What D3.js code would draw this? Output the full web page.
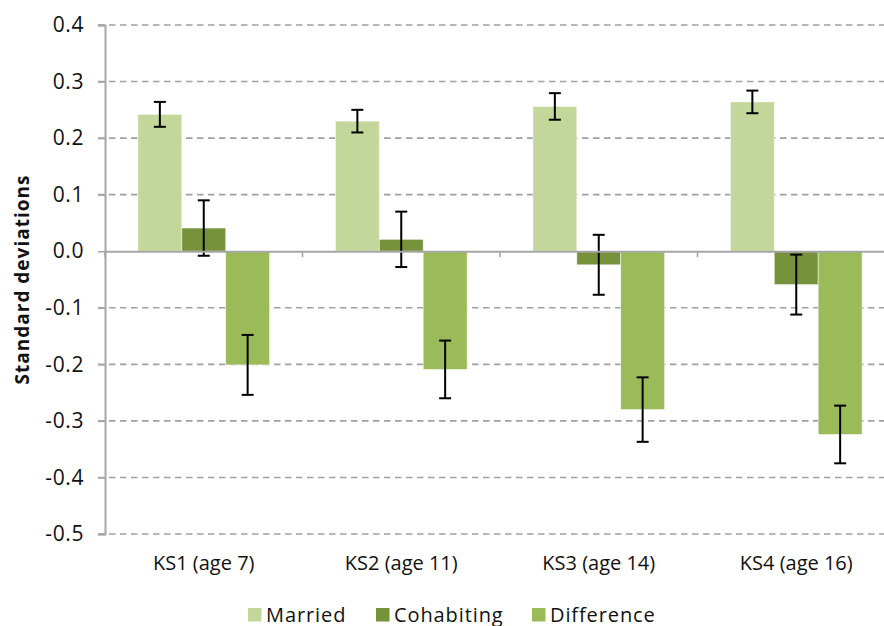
<!DOCTYPE html>
<html>
<head>
<meta charset="utf-8">
<script src="https://cdn.jsdelivr.net/npm/d3@7"></script>
<style>
  html, body { margin: 0; padding: 0; background: #fff; }
  svg { display: block; }
  text { font-family: "Open Sans", "Noto Sans", sans-serif; fill: #111; }
</style>
</head>
<body>
<svg id="chart" width="884" height="626"></svg>
<script>
// Key stages and series
const categories = ["KS1 (age 7)", "KS2 (age 11)", "KS3 (age 14)", "KS4 (age 16)"];
const seriesNames = ["Married", "Cohabiting", "Difference"];
const seriesColors = ["#c4d79b", "#76933c", "#9bbb59"];

// Effect sizes (standard deviations) and error half-widths
const married = [0.242, 0.230, 0.256, 0.264];
const cohabiting = [0.041, 0.021, -0.024, -0.059];
const difference = [-0.201, -0.209, -0.280, -0.324];
const marriedErr = [0.022, 0.020, 0.0235, 0.020];
const cohabitingErr = [0.049, 0.049, 0.053, 0.053];
const differenceErr = [0.053, 0.051, 0.057, 0.051];

const yTicks = [0.4, 0.3, 0.2, 0.1, 0.0, -0.1, -0.2, -0.3, -0.4, -0.5];

const values = [married, cohabiting, difference];
const errors = [marriedErr, cohabitingErr, differenceErr];

const svg = d3.select("#chart");
const plotLeft = 105, plotRight = 895, plotTop = 25, plotBottom = 534;

const y = d3.scaleLinear().domain([-0.5, 0.4]).range([plotBottom, plotTop]);
const x0 = d3.scaleBand().domain(categories).range([plotLeft, plotRight]).paddingInner(0).paddingOuter(0);
const groupW = x0.bandwidth() * (3 / 4.5);
const x1 = d3.scaleBand().domain(seriesNames).range([0, groupW]).padding(0);

// Horizontal dashed gridlines
svg.append("g")
  .selectAll("line")
  .data(yTicks.filter(t => t !== 0))
  .join("line")
  .attr("x1", plotLeft - 7).attr("x2", plotRight)
  .attr("y1", d => y(d)).attr("y2", d => y(d))
  .attr("stroke", "#a0a0a0").attr("stroke-width", 1.6)
  .attr("stroke-dasharray", "6.5,4.5");

// Y axis
const yAxis = d3.axisLeft(y).tickValues(yTicks).tickSize(7).tickPadding(14);
const gy = svg.append("g").attr("transform", `translate(${plotLeft},0)`).call(yAxis);
gy.select(".domain").attr("stroke", "#a6a6a6").attr("stroke-width", 2);
gy.selectAll(".tick line").attr("stroke", "#a6a6a6").attr("stroke-width", 1.6);
gy.selectAll(".tick text").style("font-size", "21px").attr("fill", "#111")
  .style("letter-spacing", "0.6px")
  .style("font-family", "'Open Sans', 'Noto Sans', sans-serif")
  .text(d => d < 0 ? "-" + Math.abs(d).toFixed(1) : Math.abs(d).toFixed(1));

// Bars
const groups = svg.append("g")
  .selectAll("g")
  .data(categories)
  .join("g")
  .attr("transform", d => `translate(${x0(d) + (x0.bandwidth() - groupW) / 2},0)`);

const cells = (d, i) => seriesNames.map((s, j) => ({ s, j, v: values[j][i], e: errors[j][i] }));

groups.selectAll("rect")
  .data(cells)
  .join("rect")
  .attr("x", d => x1(d.s))
  .attr("width", x1.bandwidth())
  .attr("y", d => y(Math.max(0, d.v)))
  .attr("height", d => Math.abs(y(d.v) - y(0)))
  .attr("fill", d => seriesColors[d.j])
  .attr("stroke", "#ffffff").attr("stroke-opacity", 0.6).attr("stroke-width", 0.8);

// X axis line at zero with category ticks
const xAxis = d3.axisBottom(x0).tickSize(0).tickFormat("");
const gx = svg.append("g").attr("transform", `translate(0,${y(0)})`).call(xAxis);
gx.select(".domain").attr("stroke", "#a6a6a6").attr("stroke-width", 2);
svg.append("g").selectAll("line")
  .data(categories.map(c => x0(c)).concat([plotRight]))
  .join("line")
  .attr("x1", d => d).attr("x2", d => d)
  .attr("y1", y(0)).attr("y2", y(0) + 6)
  .attr("stroke", "#a6a6a6").attr("stroke-width", 1.6);

// Error bars
const capW = 12;
const eb = groups.selectAll("g.err")
  .data(cells)
  .join("g").attr("class", "err")
  .attr("transform", d => `translate(${x1(d.s) + x1.bandwidth() / 2},0)`);
eb.append("line").attr("x1", 0).attr("x2", 0)
  .attr("y1", d => y(d.v + d.e)).attr("y2", d => y(d.v - d.e))
  .attr("stroke", "#000").attr("stroke-width", 2);
eb.append("line").attr("x1", -capW / 2).attr("x2", capW / 2)
  .attr("y1", d => y(d.v + d.e)).attr("y2", d => y(d.v + d.e))
  .attr("stroke", "#000").attr("stroke-width", 2);
eb.append("line").attr("x1", -capW / 2).attr("x2", capW / 2)
  .attr("y1", d => y(d.v - d.e)).attr("y2", d => y(d.v - d.e))
  .attr("stroke", "#000").attr("stroke-width", 2);

// Category labels
svg.append("g").selectAll("text")
  .data(categories)
  .join("text")
  .attr("x", d => x0(d) + x0.bandwidth() / 2)
  .attr("y", 570)
  .attr("text-anchor", "middle")
  .style("font-size", "20px")
  .text(d => d);

// Y axis title
svg.append("text")
  .attr("transform", `translate(29,${(plotTop + plotBottom) / 2}) rotate(-90)`)
  .attr("text-anchor", "middle")
  .style("font-size", "19px").style("font-weight", "bold")
  .style("letter-spacing", "1px")
  .text("Standard deviations");

// Legend
const legendX = [248, 376, 532];
const legend = svg.append("g").selectAll("g")
  .data(seriesNames)
  .join("g")
  .attr("transform", (d, i) => `translate(${legendX[i]},608)`);
legend.append("rect").attr("x", 0).attr("y", 0).attr("width", 13.5).attr("height", 13.5)
  .attr("fill", (d, i) => seriesColors[i]);
legend.append("text").attr("x", 18).attr("y", 13.5)
  .style("font-size", "20px").style("letter-spacing", "0.9px").text(d => d);
</script>
</body>
</html>
